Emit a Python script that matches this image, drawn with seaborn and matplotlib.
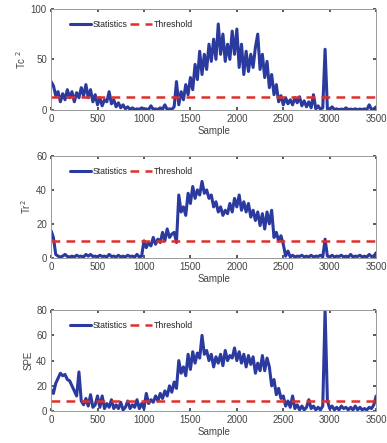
import numpy as np
import pandas as pd
import matplotlib
matplotlib.use("Agg")
import matplotlib.pyplot as plt
import seaborn as sns

sns.set_theme(style="ticks")
plt.rcParams['font.family'] = ['Liberation Sans', 'DejaVu Sans']

samples = np.arange(0, 3501, 25)

tc2 = [28, 24, 14, 18, 8, 16, 10, 20, 12, 18,
       8, 17, 12, 22, 14, 25, 12, 20, 8, 15,
       5, 12, 4, 10, 8, 18, 6, 10, 3, 7,
       2, 5, 1, 3, 0.5, 2, 0.3, 1, 0.5, 2,
       0.3, 1, 0.2, 4, 0.5, 1, 0.2, 2, 0.5, 5,
       0.3, 1, 0.5, 3, 28, 5, 18, 10, 25, 15,
       32, 20, 45, 30, 58, 35, 55, 40, 65, 48,
       70, 50, 85, 55, 75, 48, 65, 50, 78, 55,
       80, 42, 65, 35, 58, 38, 55, 42, 62, 75,
       40, 55, 32, 48, 22, 35, 15, 25, 8, 14,
       5, 12, 6, 10, 5, 12, 7, 13, 4, 9,
       3, 8, 2, 15, 1, 4, 0.5, 2, 60, 1,
       0.5, 3, 0.3, 1, 0.2, 0.8, 0.3, 2, 0.2, 0.8,
       0.3, 1, 0.2, 0.8, 0.3, 1, 0.2, 5, 0.3, 1,
       3]

tr2 = [16, 12, 2, 1, 0.5, 1, 2, 0.8, 0.5, 1,
       0.5, 1.5, 0.8, 1, 0.5, 2, 1, 2, 0.8, 1,
       0.5, 1.5, 0.8, 1, 0.5, 2, 0.8, 1, 0.5, 1.5,
       0.5, 1, 0.5, 1.5, 0.8, 1, 0.5, 2, 0.5, 1,
       10, 6, 9, 7, 12, 8, 11, 9, 15, 10,
       17, 12, 14, 15, 9, 37, 27, 30, 25, 38,
       32, 42, 35, 40, 37, 45, 38, 40, 35, 37,
       30, 33, 27, 30, 25, 28, 26, 32, 27, 35,
       30, 37, 28, 33, 27, 32, 24, 28, 22, 27,
       19, 26, 17, 27, 20, 28, 12, 15, 10, 13,
       8, 1, 4, 0.5, 1.5, 0.5, 1, 0.8, 1.5, 0.5,
       1, 0.5, 1.5, 0.5, 1, 0.8, 1.5, 0.5, 11, 1,
       0.5, 1.5, 0.5, 1, 0.8, 1.5, 0.5, 1, 0.5, 2,
       0.5, 1, 0.8, 1.5, 0.5, 1, 0.5, 2, 0.8, 1,
       3]

spe = [17, 14, 22, 26, 30, 28, 29, 25, 24, 20,
       16, 12, 31, 8, 5, 10, 4, 13, 3, 5,
       12, 3, 12, 2, 6, 3, 9, 2, 5, 2,
       7, 1, 3, 8, 2, 5, 3, 9, 2, 6,
       2, 14, 6, 9, 7, 12, 8, 14, 10, 16,
       12, 20, 15, 23, 18, 40, 30, 35, 28, 45,
       33, 47, 38, 46, 42, 60, 45, 48, 40, 45,
       35, 43, 38, 45, 36, 48, 40, 44, 42, 50,
       40, 47, 38, 45, 35, 44, 37, 43, 30, 38,
       32, 44, 32, 42, 35, 20, 25, 13, 18, 10,
       12, 4, 8, 3, 12, 2, 5, 1, 4, 1,
       3, 9, 2, 4, 1, 3, 1, 4, 80, 8,
       2, 4, 1, 3, 1, 4, 2, 3, 1, 3,
       1, 4, 1, 3, 1, 2, 1, 3, 2, 5,
       12]

thresholds = [13, 10, 8]
ylabels = ["Tc$^{\\ 2}$", "Tr$^2$", "SPE"]
ylims = [(0, 100), (0, 60), (0, 80)]
yticks = [[0, 50, 100], [0, 20, 40, 60], [0, 20, 40, 60, 80]]
series = [tc2, tr2, spe]

fig = plt.figure(figsize=(3.87, 4.43), dpi=100)
positions = [[0.132, 0.752, 0.840, 0.228],
             [0.132, 0.418, 0.840, 0.230],
             [0.132, 0.072, 0.840, 0.228]]

blue = "#2a3a9e"
red = "#e0302a"
for pos, vals, thr, yl, lim, yt in zip(positions, series, thresholds, ylabels, ylims, yticks):
    ax = fig.add_axes(pos)
    df = pd.DataFrame({"Sample": samples, "Statistics": vals})
    sns.lineplot(data=df, x="Sample", y="Statistics", ax=ax, color=blue, lw=2.2, label="Statistics")
    ax.axhline(thr, color=red, ls=(0, (3.5, 2.5)), lw=1.8, label="Threshold")
    ax.set_xlim(0, 3500)
    ax.set_ylim(*lim)
    ax.set_yticks(yt)
    ax.set_xticks(range(0, 3501, 500))
    ax.set_xlabel("Sample", fontsize=7, color="#444444", labelpad=1.5)
    ax.set_ylabel(yl, fontsize=7, color="#444444", labelpad=2)
    ax.tick_params(direction="in", length=2.5, labelsize=7, colors="#444444", top=True, right=True, pad=3)
    for s in ax.spines.values():
        s.set_color("#999999")
        s.set_linewidth(0.7)
    leg = ax.legend(loc="upper left", frameon=False, fontsize=6.3, handlelength=2.5,
                    ncol=2, columnspacing=0.3, handletextpad=0.15, borderaxespad=0.6,
                    bbox_to_anchor=(0.03, 0.98))

fig.savefig("out.png", dpi=100)
